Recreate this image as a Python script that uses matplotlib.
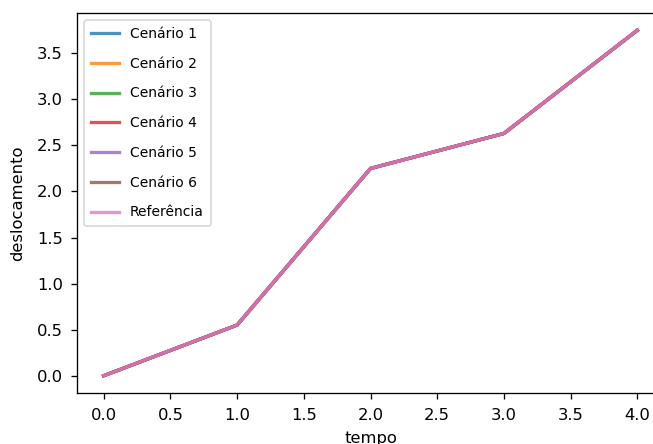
import matplotlib.pyplot as plt

# dados
tempo = [0, 1, 2, 3, 4]
deslocamento = [0.0, 0.55, 2.25, 2.63, 3.75]
rotulos = ['Cenário 1', 'Cenário 2', 'Cenário 3', 'Cenário 4',
           'Cenário 5', 'Cenário 6', 'Referência']

fig = plt.figure(figsize=(653 / 118, 444 / 118), dpi=118)
ax = fig.add_axes([77 / 653, 51 / 444, 587 / 653, 380 / 444])

for r in rotulos:
    ax.plot(tempo, deslocamento, label=r, linewidth=2, alpha=0.8)

ax.spines['right'].set_visible(False)  # fica fora do recorte
ax.tick_params(axis='x', pad=5.5)
ax.tick_params(axis='y', pad=5)
ax.set_xlabel('tempo', labelpad=5)
ax.set_ylabel('deslocamento', labelpad=7)
ax.legend(loc='upper left', fontsize=8.5, labelspacing=1.13, borderpad=0.5)

fig.savefig('out.png', dpi=118)
